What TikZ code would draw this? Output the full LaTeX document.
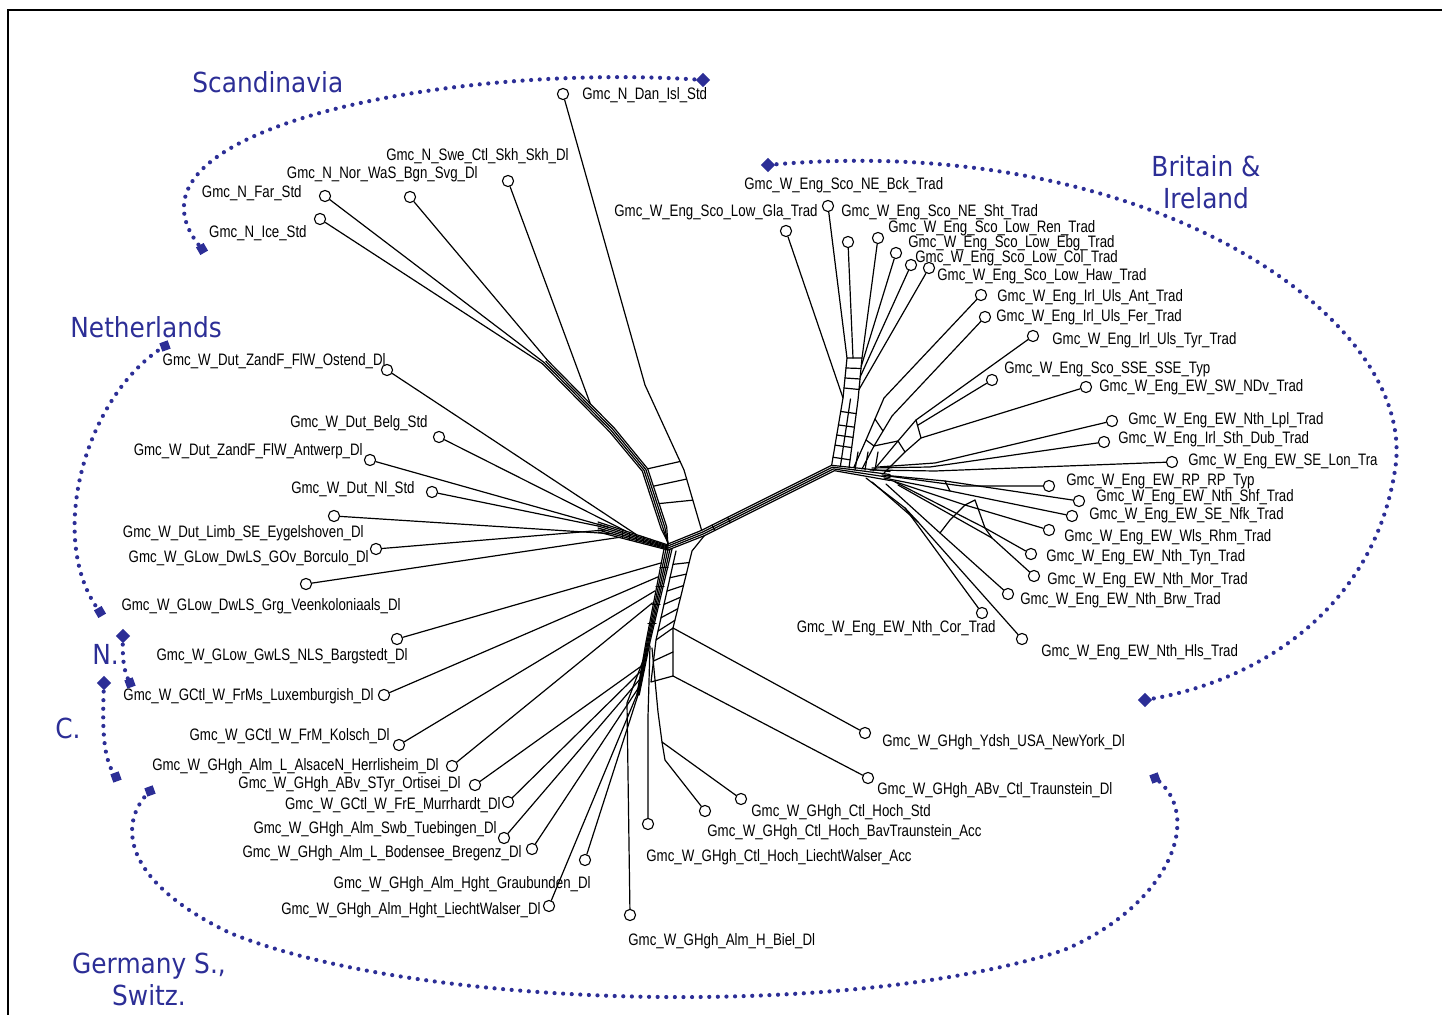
\documentclass[tikz,border=0pt]{standalone}
\usepackage{fontspec}
\setmainfont{Liberation Sans}
\newfontfamily\labfont[FakeStretch=0.8]{Liberation Sans}
\newfontfamily\regfont[FakeStretch=0.9]{DejaVu Sans}
\usetikzlibrary{calc}
\definecolor{dblue}{RGB}{44,46,150}
\newcommand\mkleaf[7]{\node[leaf] (#1) at (#2,#3) {};\node[lab,anchor=#4] (#1-l) at (#5,#6) {#7};}
\begin{document}
\begin{tikzpicture}[x=0.5pt,y=-0.5pt,
 leaf/.style={circle,draw,line width=0.55pt,minimum size=5.6pt,inner sep=0pt,fill=white},
 lab/.style={font=\labfont\fontsize{8.3}{10}\selectfont,inner sep=0pt},
 net/.style={line width=0.6pt,line join=round,line cap=round},
 reg/.style={font=\regfont\fontsize{13.8}{16}\selectfont,text=dblue,inner sep=0pt},
 dotarc/.style={dblue,line width=2.1pt,line cap=round,dash pattern=on 0pt off 4.3pt},
 dmark/.style={fill=dblue,minimum size=5pt,inner sep=0pt,rotate=45},
 smark/.style={fill=dblue,minimum size=4.4pt,inner sep=0pt}]
\useasboundingbox (0,0) rectangle (1442,1015);
\draw[line width=1pt] (8,1015) -- (8,10) -- (1442,10);

% ---------- leaves ----------
\mkleaf{dan}{563}{94}{west}{582}{95}{Gmc\_N\_Dan\_Isl\_Std}
\mkleaf{swe}{508}{181}{east}{569}{156}{Gmc\_N\_Swe\_Ctl\_Skh\_Skh\_Dl}
\mkleaf{nor}{410}{197}{east}{478}{174}{Gmc\_N\_Nor\_WaS\_Bgn\_Svg\_Dl}
\mkleaf{far}{325}{196}{east}{302}{193}{Gmc\_N\_Far\_Std}
\mkleaf{ice}{320}{219}{east}{307}{233}{Gmc\_N\_Ice\_Std}

\mkleaf{bck}{828}{206}{west}{744}{185}{Gmc\_W\_Eng\_Sco\_NE\_Bck\_Trad}
\mkleaf{gla}{786}{231}{east}{818}{212}{Gmc\_W\_Eng\_Sco\_Low\_Gla\_Trad}
\mkleaf{sht}{848}{242}{west}{841}{212}{Gmc\_W\_Eng\_Sco\_NE\_Sht\_Trad}
\mkleaf{ren}{878}{238}{west}{888}{228}{Gmc\_W\_Eng\_Sco\_Low\_Ren\_Trad}
\mkleaf{ebg}{896}{253}{west}{908}{243}{Gmc\_W\_Eng\_Sco\_Low\_Ebg\_Trad}
\mkleaf{col}{911}{265}{west}{915}{258}{Gmc\_W\_Eng\_Sco\_Low\_Col\_Trad}
\mkleaf{haw}{929}{268}{west}{937}{276}{Gmc\_W\_Eng\_Sco\_Low\_Haw\_Trad}
\mkleaf{ant}{981}{295}{west}{997}{297}{Gmc\_W\_Eng\_Irl\_Uls\_Ant\_Trad}
\mkleaf{fer}{985}{317}{west}{996}{317}{Gmc\_W\_Eng\_Irl\_Uls\_Fer\_Trad}
\mkleaf{tyr}{1033}{336}{west}{1052}{340}{Gmc\_W\_Eng\_Irl\_Uls\_Tyr\_Trad}
\mkleaf{sse}{992}{380}{west}{1004}{369}{Gmc\_W\_Eng\_Sco\_SSE\_SSE\_Typ}
\mkleaf{ndv}{1086}{387}{west}{1099}{387}{Gmc\_W\_Eng\_EW\_SW\_NDv\_Trad}
\mkleaf{lpl}{1112}{421}{west}{1128}{420}{Gmc\_W\_Eng\_EW\_Nth\_Lpl\_Trad}
\mkleaf{dub}{1104}{442}{west}{1118}{439}{Gmc\_W\_Eng\_Irl\_Sth\_Dub\_Trad}
\mkleaf{lon}{1172}{462}{west}{1188}{461}{Gmc\_W\_Eng\_EW\_SE\_Lon\_Tra}
\mkleaf{rp}{1049}{486}{west}{1066}{481}{Gmc\_W\_Eng\_EW\_RP\_RP\_Typ}
\mkleaf{shf}{1079}{501}{west}{1096}{497}{Gmc\_W\_Eng\_EW\_Nth\_Shf\_Trad}
\mkleaf{nfk}{1072}{516}{west}{1089}{515}{Gmc\_W\_Eng\_EW\_SE\_Nfk\_Trad}
\mkleaf{rhm}{1049}{530}{west}{1064}{537}{Gmc\_W\_Eng\_EW\_Wls\_Rhm\_Trad}
\mkleaf{tyn}{1031}{554}{west}{1046}{557}{Gmc\_W\_Eng\_EW\_Nth\_Tyn\_Trad}
\mkleaf{mor}{1034}{576}{west}{1047}{580}{Gmc\_W\_Eng\_EW\_Nth\_Mor\_Trad}
\mkleaf{brw}{1008}{594}{west}{1020}{600}{Gmc\_W\_Eng\_EW\_Nth\_Brw\_Trad}
\mkleaf{cor}{982}{613}{east}{996}{628}{Gmc\_W\_Eng\_EW\_Nth\_Cor\_Trad}
\mkleaf{hls}{1022}{639}{west}{1041}{652}{Gmc\_W\_Eng\_EW\_Nth\_Hls\_Trad}

\mkleaf{ydsh}{865}{733}{west}{882}{742}{Gmc\_W\_GHgh\_Ydsh\_USA\_NewYork\_Dl}
\mkleaf{abvt}{868}{778}{west}{877}{790}{Gmc\_W\_GHgh\_ABv\_Ctl\_Traunstein\_Dl}
\mkleaf{hstd}{741}{799}{west}{751}{812}{Gmc\_W\_GHgh\_Ctl\_Hoch\_Std}
\mkleaf{hbav}{705}{811}{west}{707}{832}{Gmc\_W\_GHgh\_Ctl\_Hoch\_BavTraunstein\_Acc}
\mkleaf{hlw}{648}{824}{west}{646}{857}{Gmc\_W\_GHgh\_Ctl\_Hoch\_LiechtWalser\_Acc}
\mkleaf{biel}{630}{915}{west}{628}{941}{Gmc\_W\_GHgh\_Alm\_H\_Biel\_Dl}
\mkleaf{grau}{585}{860}{east}{591}{884}{Gmc\_W\_GHgh\_Alm\_Hght\_Graubunden\_Dl}
\mkleaf{hlws}{549}{906}{east}{541}{910}{Gmc\_W\_GHgh\_Alm\_Hght\_LiechtWalser\_Dl}
\mkleaf{breg}{532}{849}{east}{522}{853}{Gmc\_W\_GHgh\_Alm\_L\_Bodensee\_Bregenz\_Dl}
\mkleaf{tueb}{504}{838}{east}{497}{829}{Gmc\_W\_GHgh\_Alm\_Swb\_Tuebingen\_Dl}
\mkleaf{murr}{508}{802}{east}{501}{805}{Gmc\_W\_GCtl\_W\_FrE\_Murrhardt\_Dl}
\mkleaf{orti}{475}{785}{east}{461}{784}{Gmc\_W\_GHgh\_ABv\_STyr\_Ortisei\_Dl}
\mkleaf{herr}{452}{766}{east}{439}{766}{Gmc\_W\_GHgh\_Alm\_L\_AlsaceN\_Herrlisheim\_Dl}
\mkleaf{kols}{399}{745}{east}{390}{736}{Gmc\_W\_GCtl\_W\_FrM\_Kolsch\_Dl}

\mkleaf{ost}{387}{370}{east}{386}{361}{Gmc\_W\_Dut\_ZandF\_FlW\_Ostend\_Dl}
\mkleaf{belg}{439}{437}{east}{428}{423}{Gmc\_W\_Dut\_Belg\_Std}
\mkleaf{antw}{370}{460}{east}{363}{451}{Gmc\_W\_Dut\_ZandF\_FlW\_Antwerp\_Dl}
\mkleaf{nl}{432}{492}{east}{415}{489}{Gmc\_W\_Dut\_Nl\_Std}
\mkleaf{eyg}{334}{516}{east}{364}{533}{Gmc\_W\_Dut\_Limb\_SE\_Eygelshoven\_Dl}
\mkleaf{borc}{376}{549}{east}{369}{558}{Gmc\_W\_GLow\_DwLS\_GOv\_Borculo\_Dl}
\mkleaf{veen}{306}{584}{east}{401}{606}{Gmc\_W\_GLow\_DwLS\_Grg\_Veenkoloniaals\_Dl}
\mkleaf{barg}{397}{639}{east}{408}{656}{Gmc\_W\_GLow\_GwLS\_NLS\_Bargstedt\_Dl}
\mkleaf{lux}{384}{695}{east}{374}{696}{Gmc\_W\_GCtl\_W\_FrMs\_Luxemburgish\_Dl}

% ---------- central edge ----------
\coordinate (CL) at (703,533);
\coordinate (CR) at (833,468);
\coordinate (J) at (668,547);
\coordinate (RB) at (890,476);
\foreach \d in {-3,-1,1,3}{
  \draw[net] ($(J)+(0,\d)$) -- ($(CL)+(0.45*\d,0.89*\d)$) -- ($(CR)+(0.45*\d,0.89*\d)$) -- ($(RB)+(0,1.5*\d)$);
}
\foreach \t in {0.08,0.2}
  \draw[net] ($(CL)!\t!(CR)+(-1.35,-2.67)$) -- ($(CL)!\t!(CR)+(1.35,2.67)$);

% ---------- Scotland strip ----------
\coordinate (SLa) at ($(CR)+(-1.35,-2.67)$);
\coordinate (SLb) at (843,398);
\coordinate (SLc) at (847,358);
\coordinate (SRa) at (849,468);
\coordinate (SRb) at (858,400);
\coordinate (SRc) at (862,358);
\draw[net] (SLa) -- (SLb) -- (SLc) -- (SRc) -- (SRb) -- (SRa);
\draw[net] ($(SLa)!0.5!(SRa)$) -- ($(SLb)!0.5!(SRb)$);
\foreach \t in {0.12,0.3,0.45,0.6,0.8}
  \draw[net] ($(SLa)!\t!(SLb)$) -- ($(SRa)!\t!(SRb)$);
\foreach \t in {0.25,0.5,0.75}
  \draw[net] ($(SLb)!\t!(SLc)$) -- ($(SRb)!\t!(SRc)$);
\draw[net] (gla) -- (SLb);
\draw[net] (bck) -- (SLc);
\draw[net] (sht) -- ($(SLc)!0.4!(SRc)$);
\draw[net] (ren) -- (SRc);
\draw[net] (ebg) -- ($(SRb)!0.8!(SRc)$);
\draw[net] (col) -- ($(SRb)!0.55!(SRc)$);
\draw[net] (haw) -- ($(SRb)!0.25!(SRc)$);

% ---------- Ireland / SSE lattice ----------
\coordinate (I1) at (884,398);
\coordinate (I2) at (892,416);
\coordinate (I3) at (916,420);
\coordinate (I4) at (921,438);
\coordinate (Ia) at (866,440);
\coordinate (Ib) at (874,446);
\coordinate (Ic) at (898,441);
\coordinate (Id) at (905,452);
\draw[net] (ant) -- (I1) -- (Ia) -- (854,467);
\draw[net] (fer) -- (I2) -- (Ib) -- (862,469);
\draw[net] (tyr) -- (I3) -- (Ic) -- (873,471);
\draw[net] (sse) -- ($(I3)!0.3!(I4)$);
\draw[net] (ndv) -- (I4) -- (Id) -- (884,473);
\draw[net] (I3) -- (I4);
\draw[net] (Ia) -- (Ib) -- (Ic) -- (Id);
\draw[net] ($(I1)!0.5!(Ia)$) -- ($(I2)!0.5!(Ib)$);
\foreach \x in {858,868,878}
  \draw[net] (\x,452) -- (\x-3,470);

% ---------- England fan ----------
\foreach \n/\ax/\ay/\bx/\by in {lpl/935/463/878/467, dub/930/467/872/468, lon/935/471/870/470,
   shf/945/481/882/475, rp/962/486/888/476, nfk/950/491/884/478, rhm/965/505/890/480,
   tyn/985/528/895/482, mor/992/538/898/485, brw/940/533/886/484, cor/905/508/866/478,
   hls/918/522/872/482}
  \draw[net] (\n) -- (\ax,\ay) -- (\bx,\by);
\draw[net] (965,505) -- (975,500) -- (985,528);
\draw[net] (985,528) -- (992,538);
\draw[net] (940,533) -- (950,520) -- (965,505);
\draw[net] (905,508) -- (918,522);
\draw[net] (945,481) -- (950,491);

% ---------- Scandinavia ----------
\coordinate (P1) at (545,362);
\coordinate (P2) at (612,430);
\coordinate (P3) at (645,470);
\coordinate (P4) at (664,528);
\foreach \d in {-3,-1,1,3}
  \draw[net] ($(P1)+(0.8*\d,-0.6*\d)$) -- ($(P2)+(0.8*\d,-0.6*\d)$) -- ($(P3)+(0.9*\d,-0.4*\d)$) -- ($(P4)+(0.9*\d,-0.4*\d)$) -- ($(J)+(0,-3+0.5*\d)$);
\draw[net] (ice) -- ($(P1)+(-2.4,1.8)$);
\draw[net] (far) -- ($(P1)+(-0.8,0.6)$);
\draw[net] (nor) -- ($(P1)+(2.4,-1.8)$);
\draw[net] (swe) -- ($(P1)!0.64!(P2)+(2.4,-1.8)$);
\coordinate (D1) at (645,385);
\coordinate (D2) at (684,470);
\coordinate (D3) at ($(CL)+(-1.35,-2.67)$);
\draw[net] (dan) -- (D1) -- (D2) -- (D3);
\draw[net] ($(D1)!0.9!(D2)$) -- ($(P3)+(2.7,-1.2)$);
\draw[net] ($(D2)!0.15!(D3)$) -- ($(P3)!0.3!(P4)+(2.7,-1.2)$);
\draw[net] ($(D2)!0.5!(D3)$) -- ($(P3)!0.6!(P4)+(2.7,-1.2)$);

% ---------- Dutch band ----------
\coordinate (B0) at (598,526);
\foreach \d in {-4,-2,0,2,4,6}
  \draw[net] ($(B0)+(0,\d)$) -- ($(J)+(0,0.5*\d)$);
\foreach \t in {0.35,0.45,0.55,0.65,0.75,0.85}
  \draw[net] ($(B0)!\t!(J)+(0,{-4*(1-0.5*\t)})$) -- ($(B0)!\t!(J)+(0,{6*(1-0.5*\t)})$);
\draw[net] (ost) -- ($(B0)!0.55!(J)+(0,-2.9)$);
\draw[net] (belg) -- ($(B0)!0.4!(J)+(0,-3.2)$);
\draw[net] (antw) -- ($(B0)!0.15!(J)+(0,-1.85)$);
\draw[net] (nl) -- (B0);
\draw[net] (borc) -- ($(B0)!0.1!(J)+(0,1.9)$);
\draw[net] (eyg) -- ($(B0)!0.2!(J)+(0,3.6)$);
\draw[net] (veen) -- ($(B0)!0.3!(J)+(0,5.1)$);

% ---------- German bundle ----------
\coordinate (G0) at (668,549);
\coordinate (G1) at (648,642);
\coordinate (G2) at (638,695);
\foreach \d in {-4,-2,0,2,4}
  \draw[net] ($(G0)+(\d,0)$) -- ($(G1)+(0.5*\d,0)$) -- ($(G2)+(0.3*\d,0)$);
\foreach \t in {0.2,0.4,0.6,0.8}
  \draw[net] ($(G0)!\t!(G1)+(-4,0)$) -- ($(G0)!\t!(G1)+(4,0)$);
\draw[net] (barg) -- ($(G0)!0.15!(G1)+(-4,0)$);
\draw[net] (lux) -- ($(G0)!0.3!(G1)+(-4,0)$);
\draw[net] (kols) -- ($(G0)!0.45!(G1)+(-4,0)$);
\draw[net] (herr) -- ($(G0)!0.58!(G1)+(-4,0)$);
\draw[net] (orti) -- ($(G1)!0.45!(G2)+(-1.8,0)$);
\draw[net] (murr) -- ($(G1)!0.55!(G2)+(-1.5,0)$);
\draw[net] (tueb) -- ($(G1)!0.7!(G2)+(-1,0)$);
\draw[net] (breg) -- ($(G1)!0.85!(G2)+(-0.5,0)$);
\draw[net] (grau) -- (G2);
\draw[net] (hlws) -- ($(G2)+(-1.2,0)$);
\coordinate (BI) at (627,703);
\draw[net] (biel) -- (BI) -- ($(G1)!0.2!(G2)$);
\coordinate (HW) at (648,717);
\draw[net] (hlw) -- (HW) -- ($(G1)+(2,4)$);
\coordinate (HS) at (662,742);
\coordinate (HSb) at (658,712);
\draw[net] (hstd) -- (HS) -- (HSb) -- ($(G1)+(4,6)$);
\draw[net] (hbav) -- (665,760) -- (HS);
% box for Yiddish / Traunstein
\coordinate (K1) at (656,640);
\coordinate (K2) at (673,628);
\coordinate (K3) at (673,676);
\coordinate (K4) at (651,682);
\draw[net] (K1) -- (K2) -- (K3) -- (K4) -- (K1);
\draw[net] ($(K1)!0.5!(K4)$) -- ($(K2)!0.5!(K3)$);
\draw[net] (ydsh) -- (K2);
\draw[net] (abvt) -- (K3);
\coordinate (LA) at (692,551);
\coordinate (LB) at (676,551);
\draw[net] ($(CL)+(1.35,2.67)$) -- (LA) -- (K2);
\draw[net] (LB) -- (K1);
\foreach \t in {0.15,0.3,0.45,0.6,0.75,0.9}
  \draw[net] ($(LA)!\t!(K2)$) -- ($(LB)!\t!(K1)$);

% ---------- region annotations ----------
\draw[dotarc] (703,80) .. controls (450,62) and (100,130) .. (202,249);
\node[dmark] (m1) at (703,80) {};
\node[smark,rotate=30] (m2) at (202,249) {};
\draw[dotarc] (768,165) .. controls (1150,130) and (1420,320) .. (1395,470)
  .. controls (1375,600) and (1270,680) .. (1145,700);
\node[dmark] (m3) at (768,165) {};
\node[dmark] (m4) at (1145,700) {};
\draw[dotarc] (165,346) .. controls (85,395) and (45,540) .. (100,612);
\node[smark,rotate=20] (m5) at (165,346) {};
\node[smark,rotate=30] (m6) at (100,612) {};
\draw[dotarc] (123,636) .. controls (122,660) and (124,672) .. (130,683);
\node[dmark] (m7) at (123,636) {};
\node[smark,rotate=20] (m8) at (130,683) {};
\draw[dotarc] (104,683) .. controls (102,730) and (103,760) .. (116,777);
\node[dmark] (m9) at (104,683) {};
\node[smark,rotate=20] (m10) at (116,777) {};
\draw[dotarc] (150,791) .. controls (118,822) and (120,880) .. (230,933)
  .. controls (420,1010) and (850,1020) .. (1064,950)
  .. controls (1170,905) and (1205,815) .. (1155,778);
\node[smark,rotate=20] (m11) at (150,791) {};
\node[smark,rotate=20] (m12) at (1155,778) {};

\node[reg,anchor=west] (t1) at (192,82) {Scandinavia};
\node[reg,align=center] (t2) at (1206,182) {Britain \&\\Ireland};
\node[reg,anchor=west] (t3) at (70,327) {Netherlands};
\node[reg,anchor=west] (t4) at (92,654) {N.};
\node[reg,anchor=west] (t5) at (55,728) {C.};
\node[reg,align=center] (t6) at (149,979) {Germany S.,\\Switz.};
\end{tikzpicture}
\end{document}
